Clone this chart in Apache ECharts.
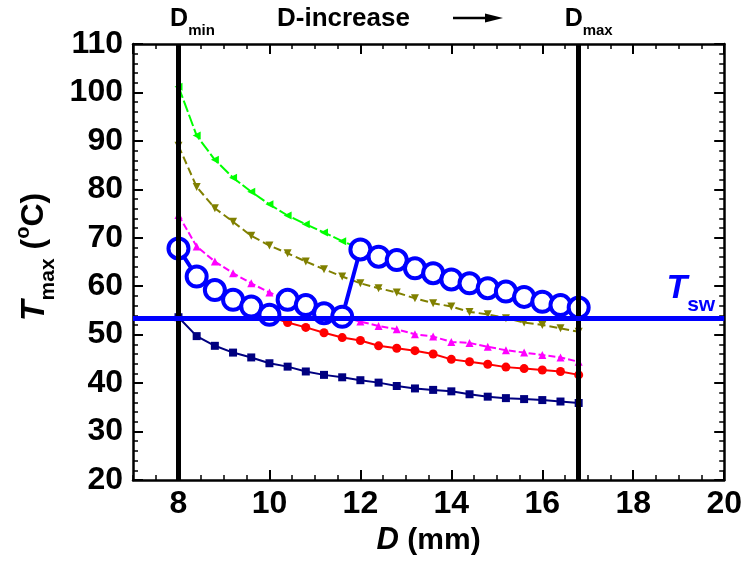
<!DOCTYPE html>
<html>
<head>
<meta charset="utf-8">
<script src="https://cdn.jsdelivr.net/npm/echarts@6/dist/echarts.min.js"></script>
<style>
  html, body { margin: 0; padding: 0; background: #fff; }
  #chart { width: 745px; height: 564px; }
</style>
</head>
<body>
<div id="chart"></div>
<script>
// diameter D (mm)
const dValues = [8.0, 8.4, 8.8, 9.2, 9.6, 10.0, 10.4, 10.8, 11.2, 11.6, 12.0, 12.4,
  12.8, 13.2, 13.6, 14.0, 14.4, 14.8, 15.2, 15.6, 16.0, 16.4, 16.8]
// Tmax (degC) per curve
const navyT = [53.6, 49.7, 47.7, 46.3, 45.3, 44.1, 43.4, 42.4, 41.7, 41.2, 40.6, 40.1,
  39.4, 38.9, 38.6, 38.3, 37.7, 37.2, 36.9, 36.7, 36.5, 36.2, 35.9]
const redT = [67.8, 62.0, 59.2, 57.2, 55.6, 53.8, 52.5, 51.5, 50.4, 49.4, 48.8, 47.7,
  47.2, 46.7, 46.0, 44.9, 44.4, 43.9, 43.3, 43.0, 42.7, 42.4, 41.7]
const magentaT = [74.7, 68.2, 65.1, 62.7, 60.6, 58.7, 57.2, 56.1, 54.6, 53.8, 52.7, 51.8,
  51.1, 50.1, 49.6, 48.5, 48.3, 47.5, 46.8, 46.3, 45.8, 45.3, 44.4]
const oliveT = [89.0, 80.5, 76.1, 73.3, 70.4, 68.4, 66.8, 65.1, 63.5, 62.0, 60.6, 59.6,
  58.7, 57.5, 56.5, 55.8, 54.7, 54.2, 53.4, 52.5, 52.0, 51.3, 50.6]
const greenT = [101.2, 91.1, 86.1, 82.4, 79.5, 76.9, 74.6, 72.8, 71.1, 69.3, 67.8, 66.2,
  65.3, 63.8, 62.7, 61.5, 60.6, 59.7, 58.9, 57.9, 56.9, 56.2, 55.6]
const blueT = [67.8, 62.0, 59.2, 57.2, 55.8, 54.1, 57.2, 56.1, 54.4, 53.7, 67.6, 66.1,
  65.4, 63.7, 62.7, 61.4, 60.6, 59.6, 58.9, 57.8, 56.8, 56.1, 55.6]
// limits
const dMin = 8
const dMax = 16.8
const tSw = 53.4

const FONT = 'Liberation Sans'

function pairs(ys) {
  return dValues.map((d, i) => [d, ys[i]])
}

function curve(name, ys, color, symbol, size, dash, rotate) {
  return {
    name: name,
    type: 'line',
    data: pairs(ys),
    symbol: symbol,
    symbolSize: size,
    symbolRotate: rotate || 0,
    lineStyle: { color: color, width: 2, type: dash },
    itemStyle: { color: color },
    z: 2
  }
}

function boxAxis(pos, showLabel) {
  return {
    type: 'value',
    position: pos,
    min: 7,
    max: 20,
    minInterval: 2,
    maxInterval: 2,
    axisLine: { onZero: false, lineStyle: { color: '#000', width: 2.5 } },
    axisTick: { inside: true, length: 10, lineStyle: { color: '#000', width: 2 } },
    axisLabel: {
      show: showLabel, showMinLabel: false, color: '#000', fontFamily: FONT,
      fontWeight: 'bold', fontSize: 32, margin: 8
    },
    splitLine: { show: false }
  }
}

function minorXAxis(pos) {
  return {
    type: 'value',
    position: pos,
    min: 7,
    max: 20,
    interval: 0.5,
    axisLine: { show: false, onZero: false },
    axisTick: { inside: true, length: 5, lineStyle: { color: '#000', width: 1.5 } },
    axisLabel: { show: false },
    splitLine: { show: false }
  }
}

function yBox(pos, showLabel) {
  return {
    type: 'value',
    position: pos,
    min: 20,
    max: 110,
    interval: 10,
    axisLine: { onZero: false, lineStyle: { color: '#000', width: 2.5 } },
    axisTick: { inside: true, length: 10, lineStyle: { color: '#000', width: 2 } },
    minorTick: { show: true, splitNumber: 5, length: 5, lineStyle: { color: '#000', width: 1.5 } },
    axisLabel: {
      show: showLabel, color: '#000', fontFamily: FONT,
      fontWeight: 'bold', fontSize: 32, margin: 10
    },
    splitLine: { show: false }
  }
}

const bottomAxis = boxAxis('bottom', true)
bottomAxis.name = '{d|D}{n| (mm)}'
bottomAxis.nameLocation = 'middle'
bottomAxis.nameGap = 42
bottomAxis.nameTextStyle = {
  rich: {
    d: { fontFamily: FONT, fontSize: 31, fontWeight: 'bold', fontStyle: 'italic', color: '#000' },
    n: { fontFamily: FONT, fontSize: 30, fontWeight: 'bold', color: '#000' }
  }
}

const leftAxis = yBox('left', true)
leftAxis.name = '{t|T}{s|max}{n| (}{o|o}{n|C)}'
leftAxis.nameLocation = 'middle'
leftAxis.nameRotate = 90
leftAxis.nameGap = 72
leftAxis.nameTextStyle = {
  rich: {
    t: { fontFamily: FONT, fontSize: 34, fontWeight: 'bold', fontStyle: 'italic', color: '#000',
      lineHeight: 34, verticalAlign: 'top', padding: [4, 0, 0, 10] },
    s: { fontFamily: FONT, fontSize: 21, fontWeight: 'bold', color: '#000',
      lineHeight: 21, verticalAlign: 'top', padding: [24, 0, 0, 0] },
    n: { fontFamily: FONT, fontSize: 32, fontWeight: 'bold', color: '#000',
      lineHeight: 32, verticalAlign: 'top', padding: [4, 0, 0, 0] },
    o: { fontFamily: FONT, fontSize: 20, fontWeight: 'bold', color: '#000',
      lineHeight: 20, verticalAlign: 'top', padding: [0, 0, 0, 0] }
  }
}

function subLabel(main, sub, color, italic, subPad) {
  return {
    show: true,
    formatter: '{m|' + main + '}{s|' + sub + '}',
    rich: {
      m: { fontFamily: FONT, fontSize: italic ? 34 : 25, fontWeight: 'bold',
        fontStyle: italic ? 'italic' : 'normal', color: color,
        lineHeight: italic ? 34 : 25, verticalAlign: 'top' },
      s: { fontFamily: FONT, fontSize: italic ? 21 : 15, fontWeight: 'bold', color: color,
        lineHeight: italic ? 21 : 15, verticalAlign: 'top', padding: [subPad, 0, 0, 0] }
    }
  }
}

const dMinLabel = subLabel('D', 'min', '#000', false, 16)
dMinLabel.position = 'end'
dMinLabel.distance = 12
dMinLabel.offset = [14, 0]
const dMaxLabel = subLabel('D', 'max', '#000', false, 16)
dMaxLabel.position = 'end'
dMaxLabel.distance = 12
dMaxLabel.offset = [10, 0]
const tSwLabel = subLabel('T', 'sw', '#0000ff', true, 24)
tSwLabel.position = 'insideEndTop'
tSwLabel.distance = [9, 13]

function initChart() {
  const chart = echarts.init(document.getElementById('chart'), null, { renderer: 'canvas' })
  const option = {
    animation: false,
    backgroundColor: '#fff',
    grid: { left: 133, right: 20, top: 44, bottom: 84 },
    xAxis: [bottomAxis, boxAxis('top', false), minorXAxis('bottom'), minorXAxis('top')],
    yAxis: [leftAxis, yBox('right', false)],
    graphic: [
      {
        type: 'text', left: 277, top: 6,
        style: { text: 'D-increase', fontFamily: FONT, fontSize: 26, fontWeight: 'bold', fill: '#000' }
      },
      {
        type: 'line', shape: { x1: 453, y1: 18, x2: 488, y2: 18 },
        style: { stroke: '#000', lineWidth: 2.5 }
      },
      {
        type: 'polygon', shape: { points: [[485, 13.5], [503, 18], [485, 22.5]] },
        style: { fill: '#000' }
      }
    ],
    series: [
      curve('navy', navyT, '#000080', 'rect', 8, 'solid'),
      curve('red', redT, '#ff0000', 'circle', 9, 'solid'),
      curve('magenta', magentaT, '#ff00ff', 'triangle', 8, [7, 3]),
      curve('olive', oliveT, '#808000', 'triangle', 8, [8, 4], 180),
      curve('green', greenT, '#00ff00', 'triangle', 8, [12, 3], 90),
      {
        name: 'optimum',
        type: 'line',
        data: pairs(blueT),
        symbol: 'circle',
        symbolSize: 20,
        lineStyle: { color: '#0000ff', width: 4 },
        itemStyle: { color: '#fff', borderColor: '#0000ff', borderWidth: 4 },
        z: 3
      },
      {
        name: 'limits',
        type: 'line',
        data: [],
        z: 4,
        markLine: {
          silent: true,
          symbol: 'none',
          animation: false,
          data: [
            { xAxis: dMin, lineStyle: { color: '#000', width: 5, type: 'solid' }, label: dMinLabel },
            { xAxis: dMax, lineStyle: { color: '#000', width: 5, type: 'solid' }, label: dMaxLabel },
            { yAxis: tSw, lineStyle: { color: '#0000ff', width: 5, type: 'solid' }, label: tSwLabel }
          ]
        }
      }
    ]
  }
  chart.setOption(option)
  window.addEventListener('resize', () => {
    chart.resize()
  })
}

initChart()
</script>
</body>
</html>
